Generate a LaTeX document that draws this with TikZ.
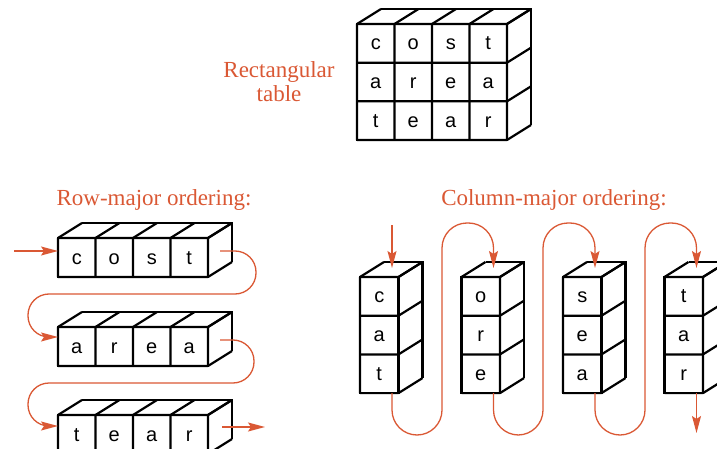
\documentclass[tikz,border=0pt]{standalone}
\usepackage{fontspec}
\setmainfont{Liberation Serif}
\newfontfamily\cellfont{Liberation Sans}
\usetikzlibrary{arrows.meta}
\definecolor{accent}{RGB}{218,88,52}
\tikzset{
  box/.style={line width=2.2pt, line join=miter},
  letter/.style={font=\cellfont\fontsize{20}{20}\selectfont, anchor=base, inner sep=0pt},
  caption/.style={text=accent, font=\fontsize{23}{24}\selectfont, anchor=base, inner sep=0pt},
  flow/.style={draw=accent, line width=1.3pt, rounded corners=21pt, -{Stealth[length=17pt,width=9pt,inset=3pt]}},
}
% #1 x, #2 y (top-left of front face), #3 cols, #4 rows, #5 cell w, #6 cell h
\newcommand\cuboid[6]{%
  \pgfmathsetmacro\cW{#3*#5}\pgfmathsetmacro\cH{#4*#6}%
  \draw[box] (#1,#2) rectangle ++(\cW,\cH);
  \foreach \i in {0,...,#3}{\draw[box] (#1+\i*#5,#2) -- ++(0,\cH) (#1+\i*#5,#2) -- ++(24,-15);}
  \foreach \j in {0,...,#4}{\draw[box] (#1,#2+\j*#6) -- ++(\cW,0) (#1+\cW,#2+\j*#6) -- ++(24,-15);}
  \draw[box] (#1+24,#2-15) -- ++(\cW,0) -- ++(0,\cH);
}
\begin{document}
\begin{tikzpicture}[x=1pt,y=-1pt]
\useasboundingbox (0,0) rectangle (717,449);
\clip (0,0) rectangle (717,449);

% ---- rectangular table ----
\cuboid{357}{24}{4}{3}{37.5}{38.67}
\foreach \ch [count=\c from 0] in {c,o,s,t}{\node[letter] (tA\c) at (357+37.5*\c+18.75,24+19.3+6.5) {\ch};}
\foreach \ch [count=\c from 0] in {a,r,e,a}{\node[letter] (tB\c) at (357+37.5*\c+18.75,62.67+19.3+6.5) {\ch};}
\foreach \ch [count=\c from 0] in {t,e,a,r}{\node[letter] (tC\c) at (357+37.5*\c+18.75,101.33+19.3+6.5) {\ch};}
\node[caption] (recA) at (279,78) {Rectangular};
\node[caption] (recB) at (279,102) {table};

% ---- row-major ----
\node[caption] (rowtitle) at (154,205) {Row-major ordering:};
\cuboid{58}{238}{4}{1}{37.5}{39}
\cuboid{58}{327}{4}{1}{37.5}{39}
\cuboid{58}{415}{4}{1}{37.5}{39}
\foreach \ch [count=\c from 0] in {c,o,s,t}{\node[letter] (rA\c) at (58+37.5*\c+18.75,238+19.5+6.5) {\ch};}
\foreach \ch [count=\c from 0] in {a,r,e,a}{\node[letter] (rB\c) at (58+37.5*\c+18.75,327+19.5+6.5) {\ch};}
\foreach \ch [count=\c from 0] in {t,e,a,r}{\node[letter] (rC\c) at (58+37.5*\c+18.75,415+19.5+6.5) {\ch};}
\coordinate (rin) at (14,251);
\coordinate (r1in) at (58,251);
\coordinate (r1out) at (220,251);
\coordinate (r2in) at (58,337);
\coordinate (r2out) at (220,340);
\coordinate (r3in) at (58,426);
\coordinate (r3out) at (222,427);
\coordinate (rend) at (265,427);
\draw[flow] (rin) -- (r1in);
\draw[flow] (r1out) -- (256,251) -- (256,294) -- (28,294) -- (28,337) -- (r2in);
\draw[flow] (r2out) -- (254,340) -- (254,383) -- (28,383) -- (28,426) -- (r3in);
\draw[flow] (r3out) -- (rend);

% ---- column-major ----
\node[caption] (coltitle) at (554,205) {Column-major ordering:};
\foreach \x/\a/\b/\d [count=\k] in {360/c/a/t, 461.5/o/r/e, 563/s/e/a, 664.5/t/a/r}{
  \cuboid{\x}{277}{1}{3}{38.5}{38.7}
  \node[letter] (cA\k) at (\x+19.25,277+19.35+6.5) {\a};
  \node[letter] (cB\k) at (\x+19.25,315.7+19.35+6.5) {\b};
  \node[letter] (cC\k) at (\x+19.25,354.4+19.35+6.5) {\d};
  \coordinate (cin\k) at (\x+32,268);
  \coordinate (cout\k) at (\x+32,393);
}
\coordinate (cstart) at (392,225);
\coordinate (cend) at (696.5,433);
\draw[flow] (cstart) -- (cin1);
\draw[flow, rounded corners=25pt] (cout1) -- (392,435) -- (442,435) -- (442,223) -- (493.5,223) -- (cin2);
\draw[flow, rounded corners=25pt] (cout2) -- (493.5,435) -- (543,435) -- (543,223) -- (595,223) -- (cin3);
\draw[flow, rounded corners=25pt] (cout3) -- (595,435) -- (645,435) -- (645,223) -- (696.5,223) -- (cin4);
\draw[flow] (cout4) -- (cend);
\end{tikzpicture}
\end{document}
